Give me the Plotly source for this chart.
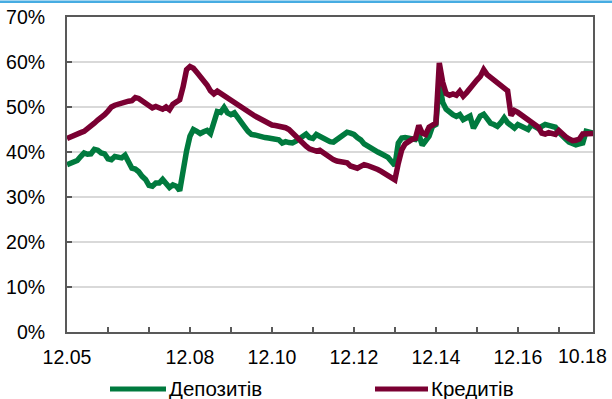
import plotly.graph_objects as go

# Monthly ratios, Dec 2005 .. Oct 2018 (155 months), in percent
deposits = [
    37.2, 37.4, 37.8, 38.1, 39.0, 39.8, 39.5, 39.6, 40.6, 40.4,
    39.8, 39.6, 38.5, 38.3, 39.0, 38.8, 38.7, 39.3, 37.6, 36.4,
    36.2, 35.6, 34.6, 33.9, 32.6, 32.4, 33.1, 33.1, 33.9, 33.0,
    32.1, 32.7, 32.4, 31.4, 36.5, 40.2, 43.5, 45.0, 44.6, 44.1,
    44.5, 44.8, 44.1, 46.5, 49.0, 48.8, 49.9, 48.7, 48.3, 48.7,
    47.5, 46.5, 45.6, 44.6, 43.9, 43.8, 43.5, 43.3, 43.2, 43.1,
    43.0, 42.9, 42.7, 42.0, 42.3, 42.1, 42.0, 42.4, 43.0, 43.5,
    44.0, 43.2, 43.0, 43.9, 43.5, 42.8, 42.4, 42.3, 42.2, 42.8,
    43.3, 43.9, 44.4, 44.2, 43.9, 43.2, 42.7, 41.8, 41.3, 40.7,
    40.3, 40.0, 39.6, 39.3, 38.8, 37.9, 37.0, 42.0, 43.1, 43.2,
    43.1, 42.9, 42.8, 43.9, 41.5, 42.5, 43.5, 45.7, 46.1, 55.5,
    51.0, 49.5, 48.7, 48.3, 47.9, 48.3, 47.2, 47.5, 48.0, 45.3,
    46.8, 48.0, 48.4, 47.2, 46.4, 46.1, 45.7, 46.5, 47.6, 46.5,
    46.0, 45.3, 46.1, 45.7, 45.3, 45.0, 46.1, 45.6, 45.2, 45.7,
    46.1, 45.9, 45.7, 45.5, 44.4, 43.5, 42.9, 42.2, 41.8, 41.6,
    41.8, 42.0, 44.6, 44.4, 44.2,
]

loans = [
    43.0, 43.4, 43.8, 44.0, 44.3, 44.6, 45.1, 45.7, 46.4, 47.1,
    47.6, 48.3, 49.1, 50.0, 50.4, 50.7, 50.9, 51.1, 51.3, 51.4,
    52.1, 51.9, 51.4, 50.8, 50.1, 49.8, 50.1, 49.8, 49.5, 50.0,
    49.4, 50.6, 51.1, 51.6, 54.5, 58.3, 59.0, 58.6, 57.7, 56.8,
    55.9, 54.9, 53.6, 52.9, 53.5, 53.0, 52.4, 51.8, 51.2, 50.9,
    50.5, 49.8, 49.2, 48.8, 48.5, 48.0, 47.6, 47.2, 46.6, 46.2,
    46.0, 45.9, 45.8, 45.7, 45.4, 45.0, 44.2, 43.3, 42.5, 42.0,
    41.3, 40.7, 40.5, 40.2, 40.4, 39.8, 39.5, 38.9, 38.3, 38.0,
    37.8, 37.7, 37.6, 36.9, 36.8, 36.4, 36.8, 37.2, 37.0, 36.8,
    36.5, 36.1, 35.7, 35.3, 34.9, 34.4, 33.8, 37.5, 40.5, 41.8,
    42.5, 42.8, 43.0, 45.9, 44.2, 43.9, 45.5, 45.9, 46.4, 59.8,
    55.5, 53.0, 52.6, 52.9, 52.6, 53.5, 52.4, 53.2, 54.3, 55.0,
    56.0, 56.8, 58.3, 57.2, 56.6, 56.2, 55.5, 55.0, 54.3, 53.6,
    48.1, 49.2, 48.8, 48.3, 47.8, 47.2, 46.7, 46.2, 45.5, 44.2,
    44.0, 44.3, 44.0, 43.9, 44.8, 44.0, 43.4, 42.9, 42.5, 42.6,
    42.9, 44.0, 44.1, 44.2, 44.1,
]

# Month labels "MM.YY"
months = []
m, y = 12, 5
for _ in range(len(deposits)):
    months.append(f"{m:02d}.{y:02d}")
    m += 1
    if m > 12:
        m, y = 1, y + 1

labeled_months = ["12.05", "12.08", "12.10", "12.12", "12.14", "12.16", "10.18"]
tick_months = [mm for mm in months if mm.startswith("12.")] + [months[-1]]
# the last label sits flush with the right edge, so it is drawn separately
tick_text = [mm if (mm in labeled_months and mm != months[-1]) else ""
             for mm in tick_months]

y_ticks = list(range(0, 71, 10))
y_tick_text = [f"{v}%" for v in y_ticks]

series_names = ["Депозитів", "Кредитів"]
series_colors = ["#007a3e", "#7a0032"]

FONT = "Liberation Sans, Arial, sans-serif"
AXIS = "#595959"

fig = go.Figure()
for name, vals, col in zip(series_names, [deposits, loans], series_colors):
    fig.add_trace(go.Scatter(
        x=months, y=vals, mode="lines", name=name,
        line=dict(color=col, width=5.5), showlegend=False,
        hoverinfo="skip",
    ))

# Plot area geometry (pixels) used for the legend and the top rule
L, R, T, B = 67, 593, 17, 332
W, H = 612, 399


def px_to_paper_x(px):
    return (px - L) / (R - L)


def px_to_paper_y(py):
    return (B - py) / (B - T)


shapes = [
    # thin blue rule across the top of the page
    dict(type="line", xref="paper", yref="paper",
         x0=px_to_paper_x(0), x1=px_to_paper_x(W),
         y0=px_to_paper_y(1.8), y1=px_to_paper_y(1.8),
         line=dict(color="#46ace2", width=2.5)),
]
annotations = [
    # final month label, right-aligned to stay inside the page
    dict(xref="paper", yref="paper", x=px_to_paper_x(609), y=px_to_paper_y(356),
         xanchor="right", yanchor="middle", showarrow=False,
         text=months[-1], font=dict(family=FONT, size=19.5, color="#000")),
]
legend_pos = [(110, 166), (375, 428)]
for (x0, x1), name, col in zip(legend_pos, series_names, series_colors):
    shapes.append(dict(type="line", xref="paper", yref="paper",
                       x0=px_to_paper_x(x0), x1=px_to_paper_x(x1),
                       y0=px_to_paper_y(389), y1=px_to_paper_y(389),
                       line=dict(color=col, width=5)))
    annotations.append(dict(xref="paper", yref="paper",
                            x=px_to_paper_x(x1 + 1), y=px_to_paper_y(388.5),
                            xanchor="left", yanchor="middle", showarrow=False,
                            text=name, font=dict(family=FONT, size=20.5, color="#000")))

fig.update_layout(
    width=W, height=H,
    margin=dict(l=L, r=W - R, t=T, b=H - B, pad=0, autoexpand=False),
    paper_bgcolor="white", plot_bgcolor="white",
    font=dict(family=FONT, size=19, color="#000"),
    shapes=shapes, annotations=annotations,
)

fig.update_xaxes(
    type="category", categoryorder="array", categoryarray=months,
    range=[0, len(months) - 1], automargin=False,
    tickmode="array", tickvals=tick_months, ticktext=tick_text,
    ticks="inside", ticklen=5, tickwidth=1.5, tickcolor=AXIS,
    showline=True, linecolor=AXIS, linewidth=2, mirror=True,
    showgrid=False, zeroline=False, ticklabelstandoff=7,
    tickfont=dict(family=FONT, size=19.5, color="#000"),
)
fig.update_yaxes(
    range=[0, 70], automargin=False,
    tickmode="array", tickvals=y_ticks, ticktext=y_tick_text,
    ticks="inside", ticklen=5, tickwidth=1.5, tickcolor=AXIS,
    showline=True, linecolor=AXIS, linewidth=2, mirror=True,
    showgrid=True, gridcolor="#d9d9d9", gridwidth=1.5, zeroline=False,
    ticklabelstandoff=16,
    tickfont=dict(family=FONT, size=19.5, color="#000"),
)

fig.write_html("out.html")
